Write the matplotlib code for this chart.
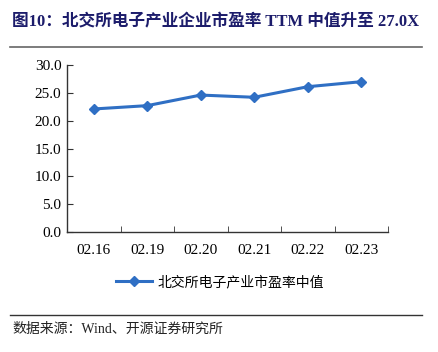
import matplotlib
matplotlib.use("Agg")
import matplotlib.pyplot as plt
from matplotlib.lines import Line2D

categories = ["02.16", "02.19", "02.20", "02.21", "02.22", "02.23"]
values = [22.1, 22.7, 24.6, 24.2, 26.1, 27.0]
series_name = "北交所电子产业市盈率中值"
title = "图10：北交所电子产业企业市盈率 TTM 中值升至 27.0X"
source = "数据来源：Wind、开源证券研究所"
yticks = [0, 5, 10, 15, 20, 25, 30]

plt.rcParams['font.family'] = ['Liberation Serif', 'Noto Sans CJK SC']

fig = plt.figure(figsize=(4.38, 3.52), dpi=100)
W, H = 438, 352
ax = fig.add_axes([67 / W, 1 - 232 / H, (388 - 67) / W, (232 - 65) / H])

x = list(range(len(categories)))
color = "#2F6FC4"
ax.plot(x, values, color=color, lw=2.2, marker="D", markersize=5.5,
        label=series_name)

ax.set_xlim(-0.5, len(categories) - 0.5)
ax.set_ylim(0, 30)
ax.set_yticks(yticks)
ax.set_yticklabels([f"{v:.1f}" for v in yticks], fontsize=11)
ax.set_xticks(x)
ax.set_xticklabels(categories, fontsize=11)
ax.set_xticks([i - 0.5 for i in range(len(categories) + 1)], minor=True)
ax.tick_params(axis="x", which="major", length=0, pad=9)
ax.tick_params(axis="x", which="minor", length=4, direction="in", color="#333333")
ax.tick_params(axis="y", length=4, direction="in", color="#333333", pad=4)
for s in ["top", "right"]:
    ax.spines[s].set_visible(False)
for s in ["left", "bottom"]:
    ax.spines[s].set_color("#333333")
    ax.spines[s].set_linewidth(1.0)

leg = fig.legend(handles=[Line2D([], [], color=color, lw=2.2, marker="D", markersize=5)],
                 labels=[series_name], loc="center", bbox_to_anchor=(220 / W, 1 - 282 / H),
                 frameon=False, prop={'family': ['Noto Sans CJK SC'], 'size': 10},
                 handlelength=2.6, handletextpad=0.4)

fig.text(12 / W, 1 - 22 / H, title, fontsize=12.0, fontweight="bold", color="#1C1C6B",
         family=['Liberation Serif', 'Noto Sans CJK SC'], va="center", ha="left")
fig.add_artist(Line2D([10 / W, 422 / W], [1 - 47 / H, 1 - 47 / H], color="#666666", lw=1.2))
fig.add_artist(Line2D([10 / W, 422 / W], [1 - 315 / H, 1 - 315 / H], color="#333333", lw=1.0))
fig.text(12 / W, 1 - 329 / H, source, fontsize=10, color="#222222",
         family=['Liberation Serif', 'Noto Sans CJK SC'], va="center", ha="left")

fig.savefig("out.png", dpi=100)
